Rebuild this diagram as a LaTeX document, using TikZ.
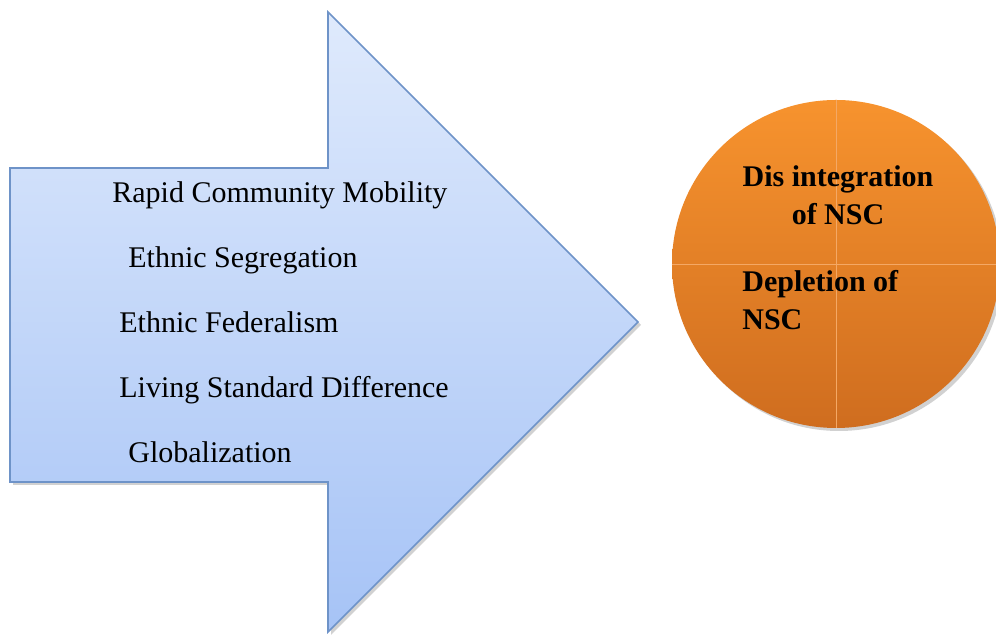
\documentclass[tikz,border=0pt]{standalone}
\usepackage{fontspec}
\setmainfont{Liberation Serif}
\usetikzlibrary{shadows}
\definecolor{arrowtop}{HTML}{DFEAFC}
\definecolor{arrowbot}{HTML}{A6C3F6}
\definecolor{arrowline}{HTML}{6E93C8}
\definecolor{balltop}{HTML}{F7932E}
\definecolor{ballbot}{HTML}{CF6D1F}
\definecolor{ballline}{HTML}{F4A865}
\tikzset{
  cause/.style={anchor=base west,inner sep=0pt,font=\fontsize{15}{18}\selectfont},
  effect/.style={inner sep=0pt,font=\fontsize{15}{18}\selectfont\bfseries},
  softshadow/.style={drop shadow={shadow xshift=1.5pt,shadow yshift=-1.5pt,opacity=0.3,fill=black!60}}
}
\begin{document}
\begin{tikzpicture}[x=0.5pt,y=0.5pt]
 \useasboundingbox (0,0) rectangle (996,635);
 % the big arrow
 \draw[arrowline,line width=0.8pt,top color=arrowtop,bottom color=arrowbot,softshadow]
   (10,467) -- (328,467) -- (328,623) -- (638,313) -- (328,3) -- (328,153) -- (10,153) -- cycle;
 \foreach \x/\y/\t [count=\i] in {112/432/Rapid Community Mobility,
    128/367/Ethnic Segregation, 119/302/Ethnic Federalism,
    119/237/Living Standard Difference, 128/172/Globalization}
    \node[cause] (cause\i) at (\x,\y) {\t};
 % the ball
 \node[circle,minimum size=164pt,inner sep=0pt,top color=balltop,bottom color=ballbot,softshadow] (ball) at (836,371) {};
 \draw[ballline,line width=0.4pt] (ball.north) -- (ball.south);
 \draw[ballline,line width=0.4pt] (ball.west) -- (ball.east);
 \node[effect,anchor=base] (dis1) at (838,448) {Dis integration};
 \node[effect,anchor=base] (dis2) at (838,410) {of NSC};
 \node[effect,anchor=base west] (dep1) at (742,343) {Depletion of};
 \node[effect,anchor=base west] (dep2) at (742,305) {NSC};
\end{tikzpicture}
\end{document}
